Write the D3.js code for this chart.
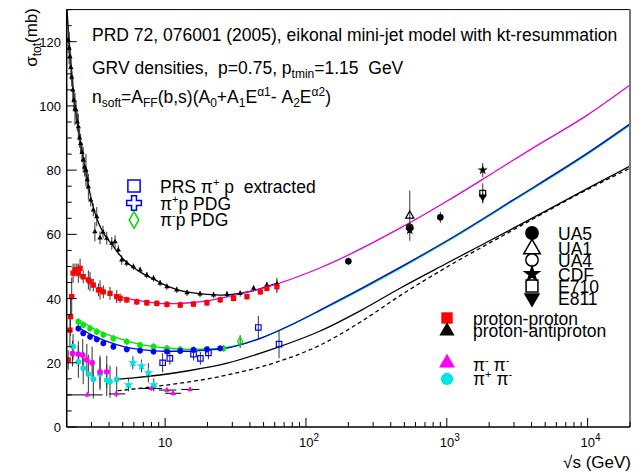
<!DOCTYPE html>
<html><head><meta charset="utf-8">
<script src="https://cdn.jsdelivr.net/npm/d3@7"></script>
<style>body{margin:0;background:#fff} text{font-family:"Liberation Sans",Arial,Helvetica,sans-serif;fill:#000;white-space:pre}</style>
</head><body><svg id="c" width="644" height="474"></svg>
<script>
// ---------- data (sqrt s [GeV], sigma [mb], error [mb]) ----------
const ppbarLow = [[2.05,120.5,4],[2.08,118,5],[2.11,115.3,3],[2.14,112,4],[2.17,109,3],[2.21,105,4],[2.25,101.8,3],[2.29,99,5],[2.33,98.7,3],[2.38,95,3],[2.42,93.5,4],[2.47,90,3],[2.51,88.3,3],[2.57,85.5,3],[2.62,83.2,4],[2.68,81,3],[2.74,80,5],[2.8,77,3],[2.85,74.8,4],[2.96,70.7,2],[3.09,67.6,2],[3.17,60.8,3],[3.27,65.5,3],[3.45,58.9,2],[3.62,60.7,2],[3.85,58.8,2],[4.18,57.2,2],[4.41,57.7,2],[4.65,55.1,1.5],[4.92,52,1.5],[5.34,51,1],[5.96,49.9,1],[6.64,48.9,1],[7.41,47.3,1],[8.27,46.3,1],[9.21,44.8,1],[10.3,43.7,1],[12.1,42.7,1],[14.3,41.8,1],[17.7,41.4,1],[22.1,41.1,1],[27.5,41.3,1],[34.1,41.6,1],[42.5,43.2,1],[52.8,44.2,1],[62.2,44.5,2]];
const ppLow = [[2.05,20.9,3],[2.11,30.2,5],[2.13,34.4,6],[2.17,40.6,6],[2.22,47.9,3],[2.29,48.9,2],[2.36,48.9,2],[2.42,47.9,3],[2.49,49.4,3],[2.62,46.8,2],[2.85,45.8,3],[2.93,45.3,3],[3.09,44.2,2],[3.36,42.7,2],[3.45,42.7,3],[3.64,42.1,2],[4.06,41.6,2],[4.53,40.6,2],[4.79,40.1,1.5],[5.34,39.6,1],[6.29,39.0,1],[7.41,38.7,1],[8.73,38.5,1],[10.3,38.2,1],[12.8,38.0,1],[15.9,38.3,1],[19.8,38.7,1],[24.6,39.6,1],[30.6,40.1,1],[38.1,40.6,1],[47.4,42.1,1],[52.8,43.2,1],[62.2,43.7,2]];
const pipLow = [[2.42,30.7,1],[2.62,29.2,1],[2.93,28.1,1],[3.27,27.3,1],[3.64,26.1,1],[4.29,25.0,1],[5.34,24.2,1],[6.64,23.8,1],[8.27,23.5,1],[10.3,23.5,1],[12.8,23.7,1],[15.9,24.0,1],[19.8,24.2,1],[24.6,24.5,1]];
const pimLow = [[2.42,32.8,1],[2.62,31.8,1],[2.93,30.7,1],[3.27,29.7,1],[3.64,28.7,1],[4.29,27.6,1],[5.34,26.6,1],[6.64,25.5,1],[8.27,25.0,1],[10.3,24.5,1],[12.8,24.2,1],[15.9,24.0,1],[19.8,24.2,1],[26.0,24.5,1]];
const pimPDGopen = [[34.1,26.6,2]];
const prsExtracted = [[9.6,20.0,3],[10.8,21.4,2],[15.9,22.7,2],[17.8,21.4,2],[20.3,23.1,2],[45.9,31.0,3.6],[64.4,25.8,4.4]];
const pipiCyan = [[2.22,25.0,4],[2.42,20.3,5],[2.62,18.3,5],[2.85,16.5,6],[3.09,14.9,6],[3.45,16.5,5],[3.85,14.6,5],[4.06,14.1,5],[4.53,14.8,4]];
const pipiCyanStar = [[5.9,20.0,2],[6.8,19.0,2],[7.6,16.9,3],[5.5,13.1,2],[8.3,13.1,2]];
const pimpimDot = [[2.2,22.9,4],[2.42,22.7,4],[2.6,22.4,5],[2.78,20.9,5],[3.03,20.0,5],[3.45,17.2,5],[3.85,17.2,5]];
const pimpimTri = [[2.8,10.0,0.5,2.0,3.6],[4.5,10.3,1,4.0,5.2],[8.0,12.0,0.7,6.5,9.5],[10.3,11.5,0.7,9.0,12.0],[11.4,10.5,0.7,10.0,13.0],[15.0,11.7,0.7,13.0,17.5]];
const ua5 = [[200,51.6,1.2],[546,61.9,1.5],[900,65.3,1.7]];
const ua1 = [[546,65.8,7.8]];
const ua4 = [[546,62.2,1.5]];
const cdf = [[546,61.3,0.9],[1800,80.0,2.2]];
const e710 = [[1800,72.8,3.1]];
const e811 = [[1800,71.7,2.0]];
// model curves
const curvePPbar = [[2.0,131],[2.1,118],[2.25,103],[2.5,89],[2.75,79],[3.0,70.5],[3.3,64.5],[3.7,60],[4.2,56.8],[5,52.5],[6,49.6],[7,47.7],[8.5,45.8],[10,44.2],[12,42.9],[15,41.9],[20,41.3],[25,41.1],[30,41.3],[40,42.2],[50,43.4],[62,44.7]];
const curvePP = [[5,40.3],[6,39.6],[7,39.1],[8.5,38.6],[10,38.4],[12,38.45],[15,38.7],[20,39.3],[30.5,41.0],[62.7,44.6],[126.6,49.6],[469,62],[1000,70.3],[2000,78.4],[3920,86.4],[10000,97.2],[20000,106.5]];
const curvePiP = [[2.5,30.7],[3,28.7],[4,26.4],[5,25.1],[6,24.4],[8,23.8],[10,23.6],[15,23.6],[20,24],[27.6,24.6],[50,28],[80,32],[126,36.4],[469,49.8],[1000,58],[3000,70.9],[10800,86.3],[20000,94.4]];
const curvePiM = [[2.5,33],[3,31],[4,28.6],[5,27.2],[6,26.2],[8,25.1],[10,24.6],[15,24.2],[20,24.3],[27.6,24.8],[50,28],[80,31.9],[126,36.2],[469,49.5],[1000,57.7],[3000,70.6],[10800,86],[20000,94.1]];
const curvePiPiPM = [[4.55,14.9],[6,15.3],[9.2,16.2],[15,17.6],[27.6,19.9],[60,24.5],[126,29.9],[250,36.5],[469,43.3],[1000,51],[3000,62],[10000,74.3],[20000,81.3]];
const curvePiPiMM = [[4.6,11.3],[9.2,12.8],[27.6,16.2],[60,20],[126,25.5],[250,33],[469,41],[1000,49.8],[3000,61.5],[10000,74],[20000,80.6]];
const xTickVals = [10,100,1000,10000];
const xTickExp = ["", "2", "3", "4"];
const yTickVals = [0,20,40,60,80,100,120];
const textLines = ["PRD 72, 076001 (2005), eikonal mini-jet model with kt-resummation"];

// ---------- scales ----------
const svg = d3.select("#c");
const X0=66.7, X1=630, Y0=427, Y1=9.6;
const x = d3.scaleLog().domain([2,20000]).range([X0,X1]);
const y = d3.scaleLinear().domain([0,130]).range([Y0,Y1]);

const plot = svg.append("g");
svg.append("defs").append("clipPath").attr("id","cp").append("rect")
  .attr("x",X0).attr("y",Y1).attr("width",X1-X0).attr("height",Y0-Y1);
const pg = plot.append("g").attr("clip-path","url(#cp)");

// ---------- curves ----------
const line = d3.line().x(d=>x(d[0])).y(d=>y(d[1])).curve(d3.curveMonotoneX);
function drawCurve(data,color,dash,w){
  pg.append("path").datum(data).attr("d",line).attr("fill","none")
    .attr("stroke",color).attr("stroke-width",w||1.3).attr("stroke-dasharray",dash||null);
}
drawCurve(curvePiPiMM,"#000","4,3");
drawCurve(curvePiPiPM,"#000");
drawCurve(curvePPbar,"#000");
drawCurve(curvePiM,"#00e000");
drawCurve(curvePiP,"#0000ff");
drawCurve(curvePP,"#e000e0");

// ---------- error bars + markers ----------
function errBars(data,color){
  pg.append("g").selectAll("line").data(data).join("line")
    .attr("x1",d=>x(d[0])).attr("x2",d=>x(d[0]))
    .attr("y1",d=>y(d[1]-d[2])).attr("y2",d=>y(d[1]+d[2]))
    .attr("stroke",color||"#333").attr("stroke-width",1);
}
function marks(data,type,size,fill,stroke,rot){
  const sym = d3.symbol().type(type).size(size);
  pg.append("g").selectAll("path").data(data).join("path")
    .attr("d",sym).attr("transform",d=>`translate(${x(d[0])},${y(d[1])})${rot?" rotate(180)":""}`)
    .attr("fill",fill).attr("stroke",stroke||"none").attr("stroke-width",1.2);
}
[ppbarLow,ppLow,pipLow,pimLow,pipiCyan,pimpimDot,prsExtracted,pimPDGopen,pipiCyanStar,ua5,ua1,ua4,cdf,e710,e811].forEach(d=>errBars(d,"#333"));
pg.append("g").selectAll("line").data(pimpimTri).join("line")
  .attr("x1",d=>x(d[3])).attr("x2",d=>x(d[4])).attr("y1",d=>y(d[1])).attr("y2",d=>y(d[1])).attr("stroke","#000");
errBars(pimpimTri,"#333");
marks(ppbarLow,d3.symbolTriangle,12,"#000");
marks(ppLow,d3.symbolSquare,28,"#ff0000");
marks(pimLow,d3.symbolCircle,26,"#00ee00");
marks(pipLow,d3.symbolCircle,26,"#0000ff");
marks(pipiCyan,d3.symbolCircle,26,"#00e0e0");
marks(pipiCyanStar,d3.symbolStar,30,"#00e0e0");
marks(pimpimDot,d3.symbolCircle,26,"#ff00ff");
marks(pimpimTri,d3.symbolTriangle,14,"#ff00ff");
marks(prsExtracted,d3.symbolSquare,30,"none","#0000ff");
marks(pimPDGopen,d3.symbolDiamond,24,"none","#00dd00");
marks(ua5,d3.symbolCircle,34,"#000");
marks(ua1,d3.symbolTriangle,30,"none","#000");
marks(ua4,d3.symbolCircle,34,"none","#000");
marks(cdf,d3.symbolStar,30,"#000");
marks(e710,d3.symbolSquare,34,"none","#000");
marks(e811,d3.symbolTriangle,30,"#000",null,true);

// ---------- frame & axes ----------
svg.append("line").attr("x1",X0).attr("x2",X1).attr("y1",Y1).attr("y2",Y1).attr("stroke","#000");
svg.append("line").attr("x1",X1).attr("x2",X1).attr("y1",Y1).attr("y2",Y0).attr("stroke","#777").attr("stroke-width",2);
svg.append("line").attr("x1",X0).attr("x2",X0).attr("y1",Y1).attr("y2",Y0).attr("stroke","#000").attr("stroke-width",1.5);
svg.append("line").attr("x1",X0).attr("x2",X1).attr("y1",Y0).attr("y2",Y0).attr("stroke","#000").attr("stroke-width",1.5);
const xMinor = [];
for (let e=0;e<=4;e++) for (let m=1;m<=9;m++){ const v=m*Math.pow(10,e); if(v>=2&&v<=20000) xMinor.push(v); }
svg.append("g").selectAll("line").data(xMinor).join("line")
  .attr("x1",d=>x(d)).attr("x2",d=>x(d)).attr("y1",Y0).attr("y2",d=>xTickVals.includes(d)?Y0-9:Y0-5)
  .attr("stroke","#000");
const xl = svg.append("g").selectAll("text").data(xTickVals).join("text")
  .attr("x",(d,i)=>x(d)+(xTickExp[i]?3:0)).attr("y",447).attr("text-anchor","middle").style("font-size","13px");
xl.each(function(d,i){ const t=d3.select(this); t.append("tspan").text("10");
  if(xTickExp[i]) t.append("tspan").attr("dy",-6).style("font-size","10px").text(xTickExp[i]); });
const yMinor = d3.range(0,131,5);
svg.append("g").selectAll("line").data(yMinor).join("line")
  .attr("y1",d=>y(d)).attr("y2",d=>y(d)).attr("x1",X0).attr("x2",d=>d%20===0?X0+10:X0+5).attr("stroke","#000");
svg.append("g").selectAll("text").data(yTickVals).join("text")
  .attr("x",61).attr("y",d=>y(d)+5).attr("text-anchor","end").style("font-size","13px").text(d=>d);
const yt = svg.append("text").attr("transform","translate(37,8) rotate(-90)").attr("text-anchor","end").style("font-size","17px");
yt.append("tspan").text("σ"); yt.append("tspan").attr("dy",4).style("font-size","12px").text("tot");
yt.append("tspan").attr("dy",-4).text("(mb)");
svg.append("text").attr("x",631).attr("y",468).attr("text-anchor","end").style("font-size","17px").text("√s (GeV)");

// ---------- annotations ----------
const fs="17.5px";
svg.append("text").attr("x",92).attr("y",41).style("font-size",fs).text(textLines[0]);
const t2 = svg.append("text").attr("x",92).attr("y",74).style("font-size",fs);
t2.append("tspan").text("GRV densities,  p=0.75, p");
t2.append("tspan").attr("dy",4).style("font-size","12px").text("tmin");
t2.append("tspan").attr("dy",-4).text("=1.15  GeV");
const t3 = svg.append("text").attr("x",92).attr("y",103).style("font-size",fs);
[["n",0,null],["soft",4,"12px"],["=A",-4,null],["FF",4,"12px"],["(b,s)(A",-4,null],["0",4,"12px"],["+A",-4,null],["1",4,"12px"],["E",-4,null],["α1",-7,"12px"],["- A",7,null],["2",4,"12px"],["E",-4,null],["α2",-7,"12px"],[")",7,null]]
 .forEach(([s,dy,f])=>{const ts=t3.append("tspan").attr("dy",dy).text(s); if(f) ts.style("font-size",f);});

// ---------- legends ----------
function legMark(cx,cy,type,size,fill,stroke,rot){
  svg.append("path").attr("d",d3.symbol().type(type).size(size)())
    .attr("transform",`translate(${cx},${cy})${rot?" rotate(180)":""}`)
    .attr("fill",fill).attr("stroke",stroke||"none").attr("stroke-width",1.5);
}
function supText(xx,yy,parts){
  const t = svg.append("text").attr("x",xx).attr("y",yy).style("font-size",fs);
  parts.forEach(([s,dy,f])=>{const ts=t.append("tspan").attr("dy",dy).text(s); if(f) ts.style("font-size",f);});
}
legMark(134,186,d3.symbolSquare,150,"none","#0000ff");
supText(160,193,[["PRS π",0],["+",-7,"11px"],[" p  extracted",7]]);
legMark(134,203,d3.symbolCross,120,"none","#0000ff");
supText(160,210,[["π",0],["+",-7,"11px"],["p PDG",7]]);
legMark(134,220,d3.symbolDiamond,80,"none","#00dd00");
supText(160,226,[["π",0],["-",-7,"11px"],["p PDG",7]]);

const hiLabels = ["UA5","UA1","UA4","CDF","E710","E811"];
const hiY = [233,248,260,274,286,298];
legMark(532,hiY[0],d3.symbolCircle,150,"#000");
legMark(532,hiY[1]+1,d3.symbolTriangle,120,"none","#000");
legMark(532,hiY[2],d3.symbolCircle,120,"none","#000");
legMark(532,hiY[3],d3.symbolStar,110,"#000");
legMark(532,hiY[4],d3.symbolSquare,140,"none","#000");
legMark(532,hiY[5],d3.symbolTriangle,120,"#000",null,true);
hiLabels.forEach((s,i)=>svg.append("text").attr("x",558).attr("y",hiY[i]+7).style("font-size",fs).text(s));

legMark(447,318,d3.symbolSquare,130,"#ff0000");
legMark(447,331,d3.symbolTriangle,100,"#000");
svg.append("text").attr("x",473).attr("y",325).style("font-size",fs).text("proton-proton");
svg.append("text").attr("x",473).attr("y",337).style("font-size",fs).text("proton-antiproton");
legMark(447,363,d3.symbolTriangle,110,"#ff00ff");
legMark(447,379,d3.symbolCircle,120,"#00e5e5");
supText(473,371,[["π",0],["-",-7,"11px"],[" π",7],["-",-7,"11px"]]);
supText(473,385,[["π",0],["+",-7,"11px"],[" π",7],["-",-7,"11px"]]);
</script></body></html>
